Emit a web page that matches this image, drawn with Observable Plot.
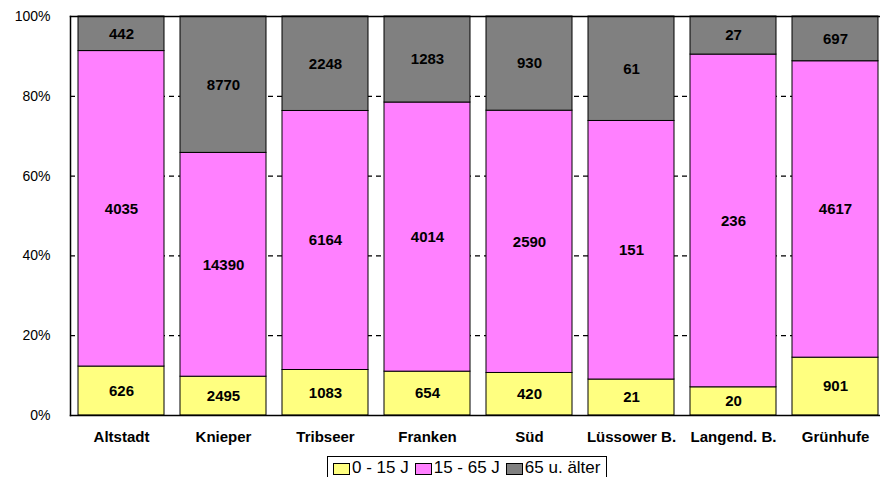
<!DOCTYPE html>
<html>
<head>
<meta charset="utf-8">
<script src="https://cdn.jsdelivr.net/npm/d3@7"></script>
<script src="https://cdn.jsdelivr.net/npm/@observablehq/plot@0.6"></script>
<style>
  body { margin: 0; background: #fff; font-family: "Liberation Sans", Arial, sans-serif; }
  #wrap { position: relative; width: 880px; height: 477px; overflow: hidden; }
  #legend { position: absolute; left: 327px; top: 456px; border: 1px solid #000; height: 26px; box-sizing: border-box;
            display: flex; align-items: flex-start; padding: 1px 6px 0 5px; font-size: 17px; white-space: nowrap; background:#fff; }
  #legend .item { display: flex; align-items: center; margin-right: 6px; line-height: 19px; }
  #legend .item:last-child { margin-right: 0; }
  #legend .sw { width: 15px; height: 10px; border: 1px solid #000; margin-right: 2px; margin-top: 2px; }
</style>
</head>
<body>
<div id="wrap">
  <div id="chart"></div>
  <div id="legend"></div>
</div>
<script>
const districts = ["Altstadt", "Knieper", "Tribseer", "Franken", "Süd", "Lüssower B.", "Langend. B.", "Grünhufe"];
const groups = ["0 - 15 J", "15 - 65 J", "65 u. älter"];
const young = [626, 2495, 1083, 654, 420, 21, 20, 901];
const middle = [4035, 14390, 6164, 4014, 2590, 151, 236, 4617];
const old = [442, 8770, 2248, 1283, 930, 61, 27, 697];
const colors = ["#FFFF80", "#FF80FF", "#808080"];
const yTicks = [0, 0.2, 0.4, 0.6, 0.8, 1];

const series = [young, middle, old];
const data = [];
groups.forEach((g, gi) => {
  districts.forEach((d, di) => data.push({district: d, group: g, value: series[gi][di]}));
});

const chart = Plot.plot({
  width: 880,
  height: 450,
  marginTop: 16,
  marginBottom: 35,
  marginLeft: 70,
  marginRight: 0,
  style: {fontFamily: "'Liberation Sans', Arial, sans-serif", fontSize: "14px", color: "#000", background: "#fff"},
  x: {domain: districts, range: [70, 886], paddingInner: 0.157, paddingOuter: 0.078, label: null},
  y: {domain: [0, 1], label: null},
  color: {domain: groups, range: colors},
  marks: [
    Plot.ruleY(yTicks.slice(1, -1), {stroke: "#000", strokeDasharray: "5,4", strokeWidth: 1.2}),
    Plot.barY(data, {x: "district", y: "value", fill: "group", offset: "normalize", stroke: "#000", strokeWidth: 1}),
    Plot.text(data, Plot.stackY({x: "district", y: "value", z: "group", offset: "normalize", text: d => String(d.value),
      fontWeight: "bold", fontSize: 15, fill: "#000"})),
    Plot.frame({anchor: "left", stroke: "#000", strokeWidth: 1.5}),
    Plot.frame({anchor: "top", stroke: "#000", strokeWidth: 1.5}),
    Plot.frame({anchor: "bottom", stroke: "#000", strokeWidth: 1.5}),
    Plot.axisY({ticks: yTicks, tickFormat: d => Math.round(d * 100) + "%", tickSize: 0, tickPadding: 20, fontSize: 14}),
    Plot.axisX({tickSize: 0, tickPadding: 16, fontWeight: "bold", fontSize: 15})
  ]
});
document.getElementById("chart").appendChild(chart);

const legend = document.getElementById("legend");
groups.forEach((g, i) => {
  const item = document.createElement("div");
  item.className = "item";
  const sw = document.createElement("div");
  sw.className = "sw";
  sw.style.background = colors[i];
  const t = document.createElement("span");
  t.textContent = g;
  item.appendChild(sw);
  item.appendChild(t);
  legend.appendChild(item);
});
</script>
</body>
</html>
